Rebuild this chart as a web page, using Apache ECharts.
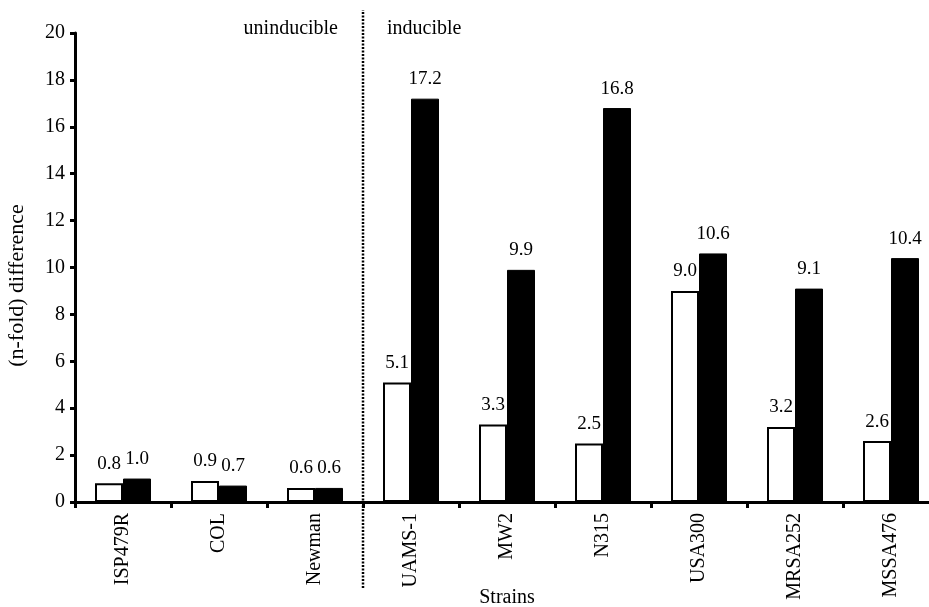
<!DOCTYPE html>
<html>
<head>
<meta charset="utf-8">
<script src="https://cdn.jsdelivr.net/npm/echarts@6/dist/echarts.min.js"></script>
<style>html,body{margin:0;padding:0;background:#fff;}#c{width:929px;height:607px;}</style>
</head>
<body>
<div id="c"></div>
<script>
const categories = ['ISP479R', 'COL', 'Newman', 'UAMS-1', 'MW2', 'N315', 'USA300', 'MRSA252', 'MSSA476'];
const whiteValues = [0.8, 0.9, 0.6, 5.1, 3.3, 2.5, 9.0, 3.2, 2.6];
const blackValues = [1.0, 0.7, 0.6, 17.2, 9.9, 16.8, 10.6, 9.1, 10.4];
const yTicks = [0, 2, 4, 6, 8, 10, 12, 14, 16, 18, 20];
const dividerAt = 3; // boundary between Newman and UAMS-1 (in category units)
const groupLabels = ['uninducible', 'inducible'];

const FONT = '"Liberation Serif", "Times New Roman", serif';
const chart = echarts.init(document.getElementById('c'), null, {renderer: 'canvas'});

const labelCfg = {
  show: true, position: 'top', distance: 10,
  fontFamily: FONT, fontSize: 19, color: '#000',
  formatter: p => p.value.toFixed(1)
};

chart.setOption({
  animation: false,
  backgroundColor: '#fff',
  grid: [
    {left: 75, top: 33, width: 864, height: 469, containLabel: false, outerBoundsMode: 'none'},
    {left: 75, top: 10, width: 864, height: 578, containLabel: false, outerBoundsMode: 'none'}
  ],
  xAxis: [
    {
      type: 'category', gridIndex: 0, data: categories,
      name: 'Strains', nameLocation: 'middle', nameGap: 86, nameMoveOverlap: false,
      nameTextStyle: {fontFamily: FONT, fontSize: 20, color: '#000'},
      axisLine: {lineStyle: {color: '#000', width: 3}},
      axisTick: {show: true, length: 6, lineStyle: {color: '#000', width: 3}},
      axisLabel: {rotate: 90, margin: 11, fontFamily: FONT, fontSize: 20, color: '#000'},
      splitLine: {show: false}
    },
    {type: 'value', gridIndex: 1, min: 0, max: categories.length, show: false}
  ],
  yAxis: [
    {
      type: 'value', gridIndex: 0, min: yTicks[0], max: yTicks[yTicks.length - 1], interval: 2,
      name: '(n-fold) difference', nameLocation: 'middle', nameGap: 47, nameMoveOverlap: false,
      nameTextStyle: {fontFamily: FONT, fontSize: 22, color: '#000', padding: [0, 36, 0, 0]},
      axisLine: {show: true, lineStyle: {color: '#000', width: 3}},
      axisTick: {show: true, length: 5, lineStyle: {color: '#000', width: 3}},
      axisLabel: {margin: 10, fontFamily: FONT, fontSize: 20, color: '#000'},
      splitLine: {show: false}
    },
    {type: 'value', gridIndex: 1, min: 0, max: 1, show: false}
  ],
  series: [
    {
      type: 'bar', xAxisIndex: 0, yAxisIndex: 0, data: whiteValues,
      barWidth: 28, barGap: '0%',
      itemStyle: {color: '#fff', borderColor: '#000', borderWidth: 2},
      label: labelCfg
    },
    {
      type: 'bar', xAxisIndex: 0, yAxisIndex: 0, data: blackValues,
      barWidth: 28, barGap: '0%',
      itemStyle: {color: '#000', borderColor: '#000', borderWidth: 1},
      label: labelCfg
    },
    {
      type: 'line', xAxisIndex: 1, yAxisIndex: 1,
      data: [[dividerAt, 0], [dividerAt, 1]],
      symbol: 'none', silent: true,
      lineStyle: {color: '#000', width: 2.5, type: [2, 1.5]}
    }
  ],
  graphic: [
    {type: 'text', right: 929 - 338, top: 19,
     style: {text: groupLabels[0], font: '20px ' + FONT, fill: '#000'}},
    {type: 'text', left: 387, top: 19,
     style: {text: groupLabels[1], font: '20px ' + FONT, fill: '#000'}}
  ]
});
</script>
</body>
</html>
